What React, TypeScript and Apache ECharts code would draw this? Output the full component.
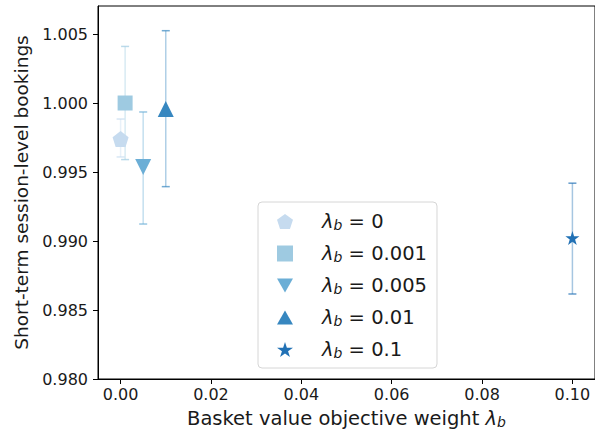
import React, { useEffect, useRef } from "react";
import * as echarts from "echarts";

const seriesNames = ["0", "0.001", "0.005", "0.01", "0.1"];
const xValues = [0, 0.001, 0.005, 0.01, 0.1];
const yValues = [0.99739, 1.0, 0.99536, 0.99957, 0.99022];
const yLow = [0.99609, 0.9959, 0.99123, 0.99394, 0.98616];
const yHigh = [0.99884, 1.0041, 0.99935, 1.00524, 0.99419];
const colors = ["#c6dbef", "#9ecae1", "#6baed6", "#3787c0", "#2171b5"];
const xTicks = [0, 0.02, 0.04, 0.06, 0.08, 0.1];
const yTicks = [0.98, 0.985, 0.99, 0.995, 1.0, 1.005];

const pentagon = "path://M50,0 L97.6,34.5 L79.4,90.5 L20.6,90.5 L2.4,34.5 Z";
const triDown = "path://M0,0 L100,0 L50,86.6 Z";
const triUp = "path://M50,0 L100,86.6 L0,86.6 Z";
const star =
  "path://M50,0 L61.2,34.5 L97.6,34.5 L68.2,55.9 L79.4,90.5 L50,69.1 L20.6,90.5 L31.8,55.9 L2.4,34.5 L38.8,34.5 Z";
const symbols = [pentagon, "rect", triDown, triUp, star];
const sizes = [16, 15, 16, 16, 14];

const FONT = "DejaVu Sans";
const TXT = "#1a1a1a";

export default function App() {
  const ref = useRef<HTMLDivElement>(null);
  useEffect(() => {
    const chart = echarts.init(ref.current!, null, { renderer: "svg" });
    const series: any[] = [];
    seriesNames.forEach((name, i) => {
      series.push({
        type: "custom",
        name: "err" + i,
        silent: true,
        z: 1,
        data: [[xValues[i], yLow[i], yHigh[i]]],
        renderItem: (params: any, api: any) => {
          const x = api.value(0);
          const lo = api.coord([x, api.value(1)]);
          const hi = api.coord([x, api.value(2)]);
          const cw = 4;
          return {
            type: "group",
            children: [
              {
                type: "line",
                shape: { x1: lo[0], y1: lo[1], x2: hi[0], y2: hi[1] },
                style: { stroke: colors[i], lineWidth: 1.5, opacity: 0.4 },
              },
              {
                type: "line",
                shape: { x1: lo[0] - cw, y1: lo[1], x2: lo[0] + cw, y2: lo[1] },
                style: { stroke: colors[i], lineWidth: 1.5, opacity: 0.7 },
              },
              {
                type: "line",
                shape: { x1: hi[0] - cw, y1: hi[1], x2: hi[0] + cw, y2: hi[1] },
                style: { stroke: colors[i], lineWidth: 1.5, opacity: 0.7 },
              },
            ],
          };
        },
      });
      series.push({
        type: "scatter",
        name,
        z: 3,
        symbol: symbols[i],
        symbolSize: sizes[i],
        itemStyle: { color: colors[i], opacity: 1 },
        data: [[xValues[i], yValues[i]]],
      });
    });

    const subRich = {
      l: { fontSize: 19.5, fontStyle: "italic", fontFamily: FONT, color: TXT, lineHeight: 22 },
      s: {
        fontSize: 14,
        fontStyle: "italic",
        fontFamily: FONT,
        color: TXT,
        lineHeight: 22,
        padding: [7, 0, 0, 0],
      },
      t: { fontSize: 19.5, fontFamily: FONT, color: TXT, lineHeight: 22 },
    };

    chart.setOption({
      animation: false,
      textStyle: { fontFamily: FONT },
      grid: {
        left: 98,
        top: 6,
        width: 500.5,
        height: 373,
        show: true,
        borderColor: "#000",
        borderWidth: 1,
        backgroundColor: "transparent",
      },
      legend: {
        orient: "vertical",
        left: 258,
        top: 202,
        data: seriesNames,
        itemWidth: 16,
        itemHeight: 16,
        itemGap: 11,
        padding: [9, 10, 8, 19],
        backgroundColor: "#fff",
        borderColor: "#d6d6d6",
        borderWidth: 1,
        borderRadius: 4,
        formatter: (n: string) => `{g|}{l|λ}{s|b}{t| = ${n}}`,
        textStyle: {
          fontFamily: FONT,
          color: TXT,
          rich: { g: { width: 24 }, ...subRich },
        },
      },
      xAxis: {
        type: "value",
        min: -0.005,
        max: 0.105,
        name: "Basket value objective weight {l|λ}{s|b}",
        nameLocation: "middle",
        nameGap: 28,
        nameTextStyle: {
          fontSize: 19.5,
          fontFamily: FONT,
          color: TXT,
          rich: {
            l: { fontSize: 19.5, fontStyle: "italic", fontFamily: FONT, color: TXT },
            s: {
              fontSize: 14,
              fontStyle: "italic",
              fontFamily: FONT,
              color: TXT,
              padding: [8, 0, 0, 0],
            },
          },
        },
        axisLine: { show: true, onZero: false, lineStyle: { color: "#000", width: 1 } },
        axisTick: {
          show: true,
          customValues: xTicks,
          length: 5,
          lineStyle: { color: "#000" },
        },
        axisLabel: {
          customValues: xTicks,
          formatter: (v: number) => v.toFixed(2),
          fontSize: 16,
          fontFamily: FONT,
          color: TXT,
          margin: 7,
        },
        splitLine: { show: false },
      },
      yAxis: {
        type: "value",
        min: 0.98,
        max: 1.00703,
        name: "Short-term session-level bookings",
        nameLocation: "middle",
        nameGap: 65,
        nameTextStyle: { fontSize: 18.5, fontFamily: FONT, color: TXT },
        axisLine: { show: true, onZero: false, lineStyle: { color: "#000", width: 1 } },
        axisTick: {
          show: true,
          customValues: yTicks,
          length: 5,
          lineStyle: { color: "#000" },
        },
        axisLabel: {
          customValues: yTicks,
          formatter: (v: number) => v.toFixed(3),
          fontSize: 16,
          fontFamily: FONT,
          color: TXT,
          margin: 10,
        },
        splitLine: { show: false },
      },
      series,
    });
    return () => chart.dispose();
  }, []);
  return (
    <div
      ref={ref}
      style={{ position: "fixed", left: 0, top: 0, width: 595, height: 437, background: "#fff" }}
    />
  );
}
